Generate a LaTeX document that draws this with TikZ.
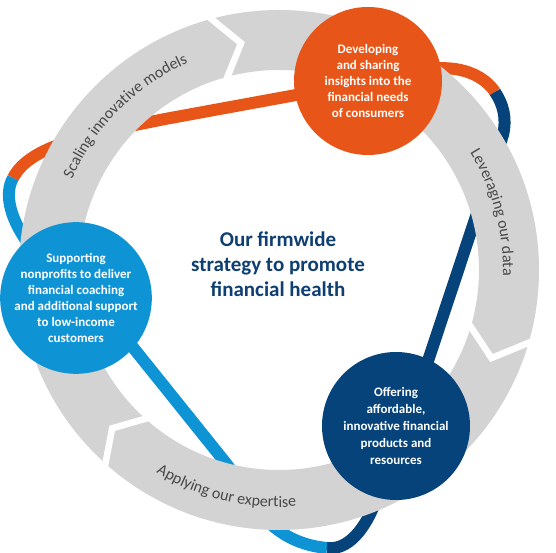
\documentclass[tikz,border=0pt]{standalone}
\usepackage{fontspec}
\setmainfont{Carlito}
\usetikzlibrary{decorations.text}
\definecolor{orng}{RGB}{232,85,24}
\definecolor{lblue}{RGB}{14,148,213}
\definecolor{navy}{RGB}{5,67,122}
\definecolor{ringgrey}{RGB}{211,211,211}
\definecolor{ringtext}{RGB}{72,72,72}
\definecolor{midnavy}{RGB}{14,63,114}
\newcommand\ringfont{\color{ringtext}\fontsize{16}{19}\selectfont}
\pgfdeclarelayer{links}
\pgfdeclarelayer{ring}
\pgfsetlayers{links,ring,main}
\tikzset{
  bubble/.style={circle, minimum size=148pt, inner sep=0pt, text=white, align=center, font=\fontsize{13}{16}\selectfont\bfseries},
  link/.style={line width=12pt},
  fromnode/.style={shorten <=-3pt},
  tonode/.style={shorten >=-3pt},
  gap/.style={white, line width=6.5pt},
  ringlabel/.style={decorate, decoration={text along path, text align=center, text={|\ringfont|#1}}}
}
\begin{document}
\begin{tikzpicture}[x=1pt,y=1pt]
\useasboundingbox (-279,-283) rectangle (277,270);
\node[bubble, fill=orng] (dev) at (89,189) {Developing\\and sharing\\insights into the\\financial needs\\of consumers};
\node[bubble, fill=lblue, minimum size=150pt] (sup) at (-203,-28) {Supporting\\nonprofits to deliver\\financial coaching\\and additional support\\to low-income\\customers};
\node[bubble, fill=navy, font=\fontsize{13}{17}\selectfont\bfseries] (off) at (117,-156) {Offering\\affordable,\\innovative financial\\products and\\resources};
\node[font=\fontsize{21}{25}\selectfont\bfseries, text=midnavy, align=center] (title) at (-1,6) {Our firmwide\\strategy to promote\\financial health};
\begin{pgfonlayer}{links}
\fill[white] (-279,-283) rectangle (277,270);
\coordinate (ob) at (-266,92);
\coordinate (on) at (216,178);
\coordinate (bn) at (48,-278);
\draw[link, orng, fromnode] (dev.191) -- (-114,151) .. controls (-189,136) and (-249,125) .. (ob);
\draw[link, lblue, tonode] (ob) .. controls (-274,78) and (-271,55) .. (sup.131);
\draw[link, orng, fromnode] (dev.10) .. controls (186,203) and (206,193) .. (on);
\draw[link, navy, tonode] (on) .. controls (224,166) and (228,152) .. (224,135) -- (off.64);
\draw[link, lblue, fromnode] (sup.-41) -- (-54,-192) .. controls (-34,-217) and (-17,-272) .. (bn);
\draw[link, navy, tonode] (bn) .. controls (73,-281) and (91,-250) .. (off.-105);
\end{pgfonlayer}
\begin{pgfonlayer}{ring}
\fill[ringgrey, even odd rule] (0,0) circle (260) (0,0) circle (200);
\foreach \b/\t in {108.5/99.5, -12.5/-22.5, -129/-136.5}
  \draw[gap] (\b:185) -- (\t:230) -- (\b:284);
\path[ringlabel={Scaling innovative models}] (175:226) arc[start angle=175, end angle=95, radius=226];
\path[ringlabel={Leveraging our data}] (55:224) arc[start angle=55, end angle=-25, radius=224];
\path[ringlabel={Applying our expertise}] (-145:237) arc[start angle=-145, end angle=-62, radius=237];
\end{pgfonlayer}
\end{tikzpicture}
\end{document}
